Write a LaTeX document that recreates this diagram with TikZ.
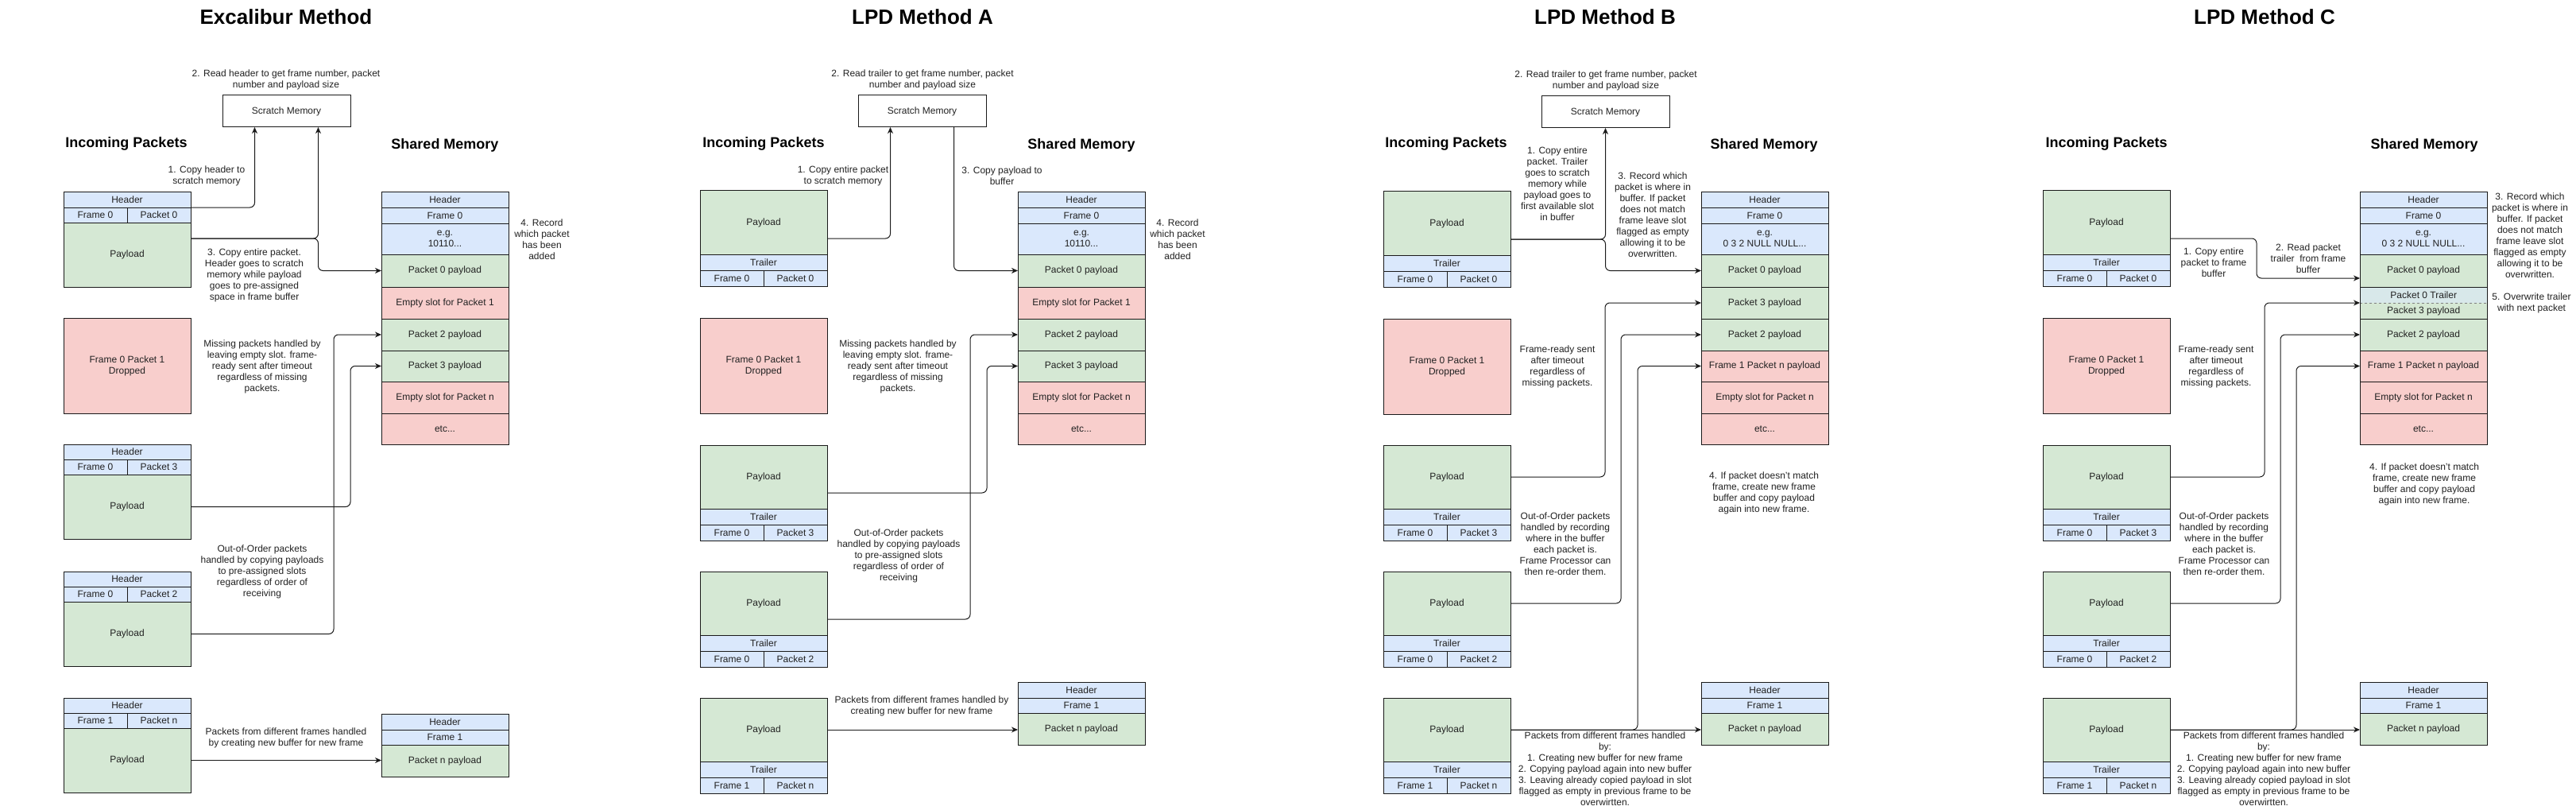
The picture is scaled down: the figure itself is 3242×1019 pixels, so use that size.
\documentclass[tikz,border=0pt]{standalone}
\usepackage{fontspec}
\setmainfont{Liberation Sans}
\usetikzlibrary{arrows.meta,calc}
\definecolor{cblue}{HTML}{DAE8FC}
\definecolor{cgreen}{HTML}{D5E8D4}
\definecolor{cred}{HTML}{F8CECC}
\definecolor{cteal}{HTML}{D8E8EA}
\definecolor{lineclr}{HTML}{1A1A1A}
\definecolor{txtclr}{HTML}{222222}
\newcommand\mytxt{\fontsize{12}{14}\selectfont}
\newcommand\myhd{\fontsize{18}{22}\selectfont\bfseries}
\newcommand\myttl{\fontsize{26}{31}\selectfont\bfseries}
\tikzset{
  cell/.style={draw=lineclr, line width=1pt, anchor=north west, inner sep=0pt, outer sep=0pt, align=center, font=\mytxt, text=txtclr},
  bc/.style={cell, fill=cblue},
  gc/.style={cell, fill=cgreen},
  rc/.style={cell, fill=cred},
  wc/.style={cell, fill=white},
  note/.style={align=center, font=\mytxt, text=txtclr, inner sep=0pt},
  headtxt/.style={font=\myhd, text=black, inner sep=0pt},
  titletxt/.style={font=\myttl, text=black, inner sep=0pt},
  arr/.style={draw=lineclr, line width=1pt, rounded corners=6pt, -{Stealth[length=8pt,width=7pt,inset=2.5pt]}},
}
\newcommand\cel[7]{\node[#2,minimum width=#5pt,minimum height=#6pt] (#1) at (#3,#4) {#7};}
% header packet: prefix, x, y, frame, packet
\newcommand\hpk[5]{%
 \cel{#1-h}{bc}{#2}{#3}{160}{19}{Header}
 \cel{#1-f}{bc}{#2}{#3+19}{80}{19}{#4}
 \cel{#1-k}{bc}{#2+80}{#3+19}{80}{19}{#5}
 \cel{#1-pay}{gc}{#2}{#3+38}{160}{81}{Payload}}
% trailer packet
\newcommand\tpk[5]{%
 \cel{#1-pay}{gc}{#2}{#3}{160}{80}{Payload}
 \cel{#1-t}{bc}{#2}{#3+80}{160}{20}{Trailer}
 \cel{#1-f}{bc}{#2}{#3+100}{80}{20}{#4}
 \cel{#1-k}{bc}{#2+80}{#3+100}{80}{20}{#5}}
% shared memory top rows
\newcommand\smtop[3]{%
 \cel{#1-h}{bc}{#2}{242}{160}{19}{Header}
 \cel{#1-fr}{bc}{#2}{261}{160}{20}{Frame 0}
 \cel{#1-eg}{bc}{#2}{281}{160}{39}{e.g.\\#3}
 \cel{#1-p0}{gc}{#2}{320}{160}{41}{Packet 0 payload}}
% new frame buffer
\newcommand\fbuf[3]{%
 \cel{#1-h}{bc}{#2}{#3}{160}{20}{Header}
 \cel{#1-fr}{bc}{#2}{#3+20}{160}{19}{Frame 1}
 \cel{#1-p}{gc}{#2}{#3+39}{160}{40}{Packet n payload}}
\begin{document}
\begin{tikzpicture}[x=1pt,y=-1pt]
\useasboundingbox[fill=white] (0,0) rectangle (3242,1019);

% ================= Excalibur =================
\node[titletxt] (e-title) at (360,21) {Excalibur Method};
\node[note] (e-t2) at (360,100.5) {2. Read header to get frame number, packet\\number and payload size};
\cel{e-scr}{wc}{280}{120}{161}{40}{Scratch Memory}
\node[headtxt] (e-inc) at (159,181) {Incoming Packets};
\node[headtxt] (e-shm) at (560,183) {Shared Memory};
\node[note] (e-t1) at (260,221) {1. Copy header to\\scratch memory};
\node[note] (e-t3) at (320,346.5) {3. Copy entire packet.\\Header goes to scratch\\memory while payload\\goes to pre-assigned\\space in frame buffer};
\node[note] (e-t4) at (682,301.5) {4. Record\\which packet\\has been\\added};
\node[note] (e-tm) at (330,461) {Missing packets handled by\\leaving empty slot. frame-\\ready sent after timeout\\regardless of missing\\packets.};
\node[note] (e-to) at (330,719) {Out-of-Order packets\\handled by copying payloads\\to pre-assigned slots\\regardless of order of\\receiving};
\node[note] (e-tn) at (360,928) {Packets from different frames handled\\by creating new buffer for new frame};
\hpk{e0}{80}{242}{Frame 0}{Packet 0}
\cel{e-drop}{rc}{80}{400}{160}{120}{Frame 0 Packet 1\\Dropped}
\hpk{e3}{80}{559}{Frame 0}{Packet 3}
\hpk{e2}{80}{719}{Frame 0}{Packet 2}
\hpk{en}{80}{878}{Frame 1}{Packet n}
\smtop{e}{480}{10110...}
\cel{e-s1}{rc}{480}{361}{160}{40}{Empty slot for Packet 1}
\cel{e-s2}{gc}{480}{401}{160}{40}{Packet 2 payload}
\cel{e-s3}{gc}{480}{441}{160}{39}{Packet 3 payload}
\cel{e-sn}{rc}{480}{480}{160}{40}{Empty slot for Packet n}
\cel{e-etc}{rc}{480}{520}{160}{39}{etc...}
\fbuf{ef}{480}{898}
\coordinate (e-j) at ([xshift=40pt]e-scr.south);
\draw[arr] (e0-h.south east) -| ([xshift=-40pt]e-scr.south);
\draw[arr] ([yshift=-20pt]e0-pay.north east) -| (e-j);
\draw[arr] ([yshift=-20pt]e0-pay.north east) -| (e-j |- e-p0.west) -- (e-p0.west);
\draw[arr] (e3-pay.east) -| ([xshift=-39pt]e-s3.west) -- (e-s3.west);
\draw[arr] (e2-pay.east) -| ([xshift=-60pt]e-s2.west) -- (e-s2.west);
\draw[arr] (en-pay.east) -- (en-pay.east -| ef-p.west);

% ================= LPD Method A =================
\node[titletxt] (a-title) at (1161,21) {LPD Method A};
\node[note] (a-t2) at (1161,100.5) {2. Read trailer to get frame number, packet\\number and payload size};
\cel{a-scr}{wc}{1080}{120}{161}{40}{Scratch Memory}
\node[headtxt] (a-inc) at (961,181) {Incoming Packets};
\node[headtxt] (a-shm) at (1361,183) {Shared Memory};
\node[note] (a-t1) at (1061,221) {1. Copy entire packet\\to scratch memory};
\node[note] (a-t3) at (1261,221) {3. Copy payload to\\buffer};
\node[note] (a-t4) at (1482,301.5) {4. Record\\which packet\\has been\\added};
\node[note] (a-tm) at (1130,461) {Missing packets handled by\\leaving empty slot. frame-\\ready sent after timeout\\regardless of missing\\packets.};
\node[note] (a-to) at (1131,699) {Out-of-Order packets\\handled by copying payloads\\to pre-assigned slots\\regardless of order of\\receiving};
\node[note] (a-tn) at (1160,888) {Packets from different frames handled by\\creating new buffer for new frame};
\tpk{a0}{881}{240}{Frame 0}{Packet 0}
\cel{a-drop}{rc}{881}{400}{160}{120}{Frame 0 Packet 1\\Dropped}
\tpk{a3}{881}{560}{Frame 0}{Packet 3}
\tpk{a2}{881}{719}{Frame 0}{Packet 2}
\tpk{an}{881}{878}{Frame 1}{Packet n}
\smtop{a}{1281}{10110...}
\cel{a-s1}{rc}{1281}{361}{160}{40}{Empty slot for Packet 1}
\cel{a-s2}{gc}{1281}{401}{160}{40}{Packet 2 payload}
\cel{a-s3}{gc}{1281}{441}{160}{39}{Packet 3 payload}
\cel{a-sn}{rc}{1281}{480}{160}{40}{Empty slot for Packet n}
\cel{a-etc}{rc}{1281}{520}{160}{39}{etc...}
\fbuf{af}{1281}{858}
\draw[arr] ([yshift=20pt]a0-pay.south east) -| ([xshift=-40pt]a-scr.south);
\draw[arr] ([xshift=40pt]a-scr.south) |- (a-p0.west);
\draw[arr] ([yshift=20pt]a3-pay.south east) -| ([xshift=-39pt]a-s3.west) -- (a-s3.west);
\draw[arr] ([yshift=20pt]a2-pay.south east) -| ([xshift=-60pt]a-s2.west) -- (a-s2.west);
\draw[arr] (an-pay.east) -- (an-pay.east -| af-p.west);

% ================= LPD Method B =================
\node[titletxt] (b-title) at (2020,21) {LPD Method B};
\node[note] (b-t2) at (2021,101.5) {2. Read trailer to get frame number, packet\\number and payload size};
\cel{b-scr}{wc}{1940}{121}{161}{40}{Scratch Memory}
\node[headtxt] (b-inc) at (1820,181) {Incoming Packets};
\node[headtxt] (b-shm) at (2220,183) {Shared Memory};
\node[note] (b-t1) at (1960,231) {1. Copy entire\\packet. Trailer\\goes to scratch\\memory while\\payload goes to\\first available slot\\in buffer};
\node[note] (b-t3) at (2080,270) {3. Record which\\packet is where in\\buffer. If packet\\does not match\\frame leave slot\\flagged as empty\\allowing it to be\\overwritten.};
\node[note] (b-tm) at (1960,461) {Frame-ready sent\\after timeout\\regardless of\\missing packets.};
\node[note] (b-to) at (1970,684) {Out-of-Order packets\\handled by recording\\where in the buffer\\each packet is.\\Frame Processor can\\then re-order them.};
\node[note] (b-t4) at (2220,620) {4. If packet doesn't match\\frame, create new frame\\buffer and copy payload\\again into new frame.};
\node[note] (b-tn) at (2020,967.5) {Packets from different frames handled\\by:\\1. Creating new buffer for new frame\\2. Copying payload again into new buffer\\3. Leaving already copied payload in slot\\flagged as empty in previous frame to be\\overwirtten.};
\tpk{b0}{1741}{241}{Frame 0}{Packet 0}
\cel{b-drop}{rc}{1741}{401}{160}{120}{Frame 0 Packet 1\\Dropped}
\tpk{b3}{1741}{560}{Frame 0}{Packet 3}
\tpk{b2}{1741}{719}{Frame 0}{Packet 2}
\tpk{bn}{1741}{878}{Frame 1}{Packet n}
\smtop{b}{2141}{0 3 2 NULL NULL...}
\cel{b-s3}{gc}{2141}{361}{160}{40}{Packet 3 payload}
\cel{b-s2}{gc}{2141}{401}{160}{40}{Packet 2 payload}
\cel{b-f1}{rc}{2141}{441}{160}{39}{Frame 1 Packet n payload}
\cel{b-sn}{rc}{2141}{480}{160}{40}{Empty slot for Packet n}
\cel{b-etc}{rc}{2141}{520}{160}{39}{etc...}
\fbuf{bf}{2141}{858}
\draw[arr] ([yshift=20pt]b0-pay.south east) -| (b-scr.south);
\draw[arr] ([yshift=20pt]b0-pay.south east) -| (b-scr.south |- b-p0.west) -- (b-p0.west);
\draw[arr] (b3-pay.east) -| ([xshift=-121pt]b-s3.west) -- (b-s3.west);
\draw[arr] (b2-pay.east) -| ([xshift=-101pt]b-s2.west) -- (b-s2.west);
\draw[arr] (bn-pay.east) -- (bn-pay.east -| bf-p.west);
\draw[arr] (bn-pay.east) -| ([xshift=-80pt]b-f1.west) -- (b-f1.west);

% ================= LPD Method C =================
\node[titletxt] (c-title) at (2850,21) {LPD Method C};
\node[headtxt] (c-inc) at (2651,181) {Incoming Packets};
\node[headtxt] (c-shm) at (3051,183) {Shared Memory};
\node[note] (c-t1) at (2786,330.5) {1. Copy entire\\packet to frame\\buffer};
\node[note] (c-t2) at (2905,325) {2. Read packet\\trailer\ \ from frame\\buffer};
\node[note] (c-t3) at (3184,296.5) {3. Record which\\packet is where in\\buffer. If packet\\does not match\\frame leave slot\\flagged as empty\\allowing it to be\\overwritten.};
\node[note] (c-t5) at (3186,381) {5. Overwrite trailer\\with next packet};
\node[note] (c-tm) at (2789,461) {Frame-ready sent\\after timeout\\regardless of\\missing packets.};
\node[note] (c-to) at (2799,684) {Out-of-Order packets\\handled by recording\\where in the buffer\\each packet is.\\Frame Processor can\\then re-order them.};
\node[note] (c-t4) at (3051,609) {4. If packet doesn't match\\frame, create new frame\\buffer and copy payload\\again into new frame.};
\node[note] (c-tn) at (2849,967.5) {Packets from different frames handled\\by:\\1. Creating new buffer for new frame\\2. Copying payload again into new buffer\\3. Leaving already copied payload in slot\\flagged as empty in previous frame to be\\overwirtten.};
\tpk{c0}{2571}{240}{Frame 0}{Packet 0}
\cel{c-drop}{rc}{2571}{400}{160}{120}{Frame 0 Packet 1\\Dropped}
\tpk{c3}{2571}{560}{Frame 0}{Packet 3}
\tpk{c2}{2571}{719}{Frame 0}{Packet 2}
\tpk{cn}{2571}{878}{Frame 1}{Packet n}
\smtop{c}{2970}{0 3 2 NULL NULL...}
\node[gc, draw=none, minimum width=160pt, minimum height=40pt] (c-s3row) at (2970,361) {};
\node[anchor=north west, fill=cteal, inner sep=0pt, minimum width=160pt, minimum height=20pt, font=\mytxt, text=txtclr] (c-tr) at (2970,361) {Packet 0 Trailer};
\node[anchor=north west, inner sep=0pt, minimum width=160pt, minimum height=20pt, font=\mytxt, text=txtclr] (c-s3) at (2970,381) {Packet 3 payload};
\draw[draw=gray, line width=0.8pt, dashed] (c-tr.south west) -- (c-tr.south east);
\draw[draw=lineclr, line width=1pt] (c-s3row.north west) rectangle (c-s3row.south east);
\cel{c-s2}{gc}{2970}{401}{160}{40}{Packet 2 payload}
\cel{c-f1}{rc}{2970}{441}{160}{39}{Frame 1 Packet n payload}
\cel{c-sn}{rc}{2970}{480}{160}{40}{Empty slot for Packet n}
\cel{c-etc}{rc}{2970}{520}{160}{39}{etc...}
\fbuf{cf}{2970}{858}
\draw[arr] ([yshift=20pt]c0-pay.south east) -| ([xshift=-130pt,yshift=11pt]c-p0.south west) -- ([yshift=11pt]c-p0.south west);
\draw[arr] (c3-pay.east) -| ([xshift=-120pt]c-s3row.west) -- (c-s3row.west);
\draw[arr] (c2-pay.east) -| ([xshift=-100pt]c-s2.west) -- (c-s2.west);
\draw[arr] (cn-pay.east) -- (cn-pay.east -| cf-p.west);
\draw[arr] (cn-pay.east) -| ([xshift=-80pt]c-f1.west) -- (c-f1.west);
\end{tikzpicture}
\end{document}
